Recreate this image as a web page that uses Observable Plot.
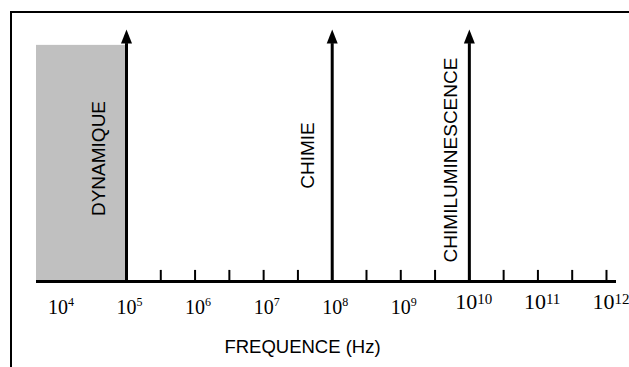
<!DOCTYPE html>
<html>
<head>
<meta charset="utf-8">
<script src="https://cdn.jsdelivr.net/npm/d3@7"></script>
<script src="https://cdn.jsdelivr.net/npm/@observablehq/plot@0.6"></script>
<style>
  html, body { margin: 0; padding: 0; background: #fff; }
  #wrap { position: relative; width: 629px; height: 367px; overflow: hidden; }
  #border { position: absolute; left: 10px; top: 11px; width: 640px; height: 400px;
            border-top: 2px solid #000; border-left: 2px solid #000; pointer-events: none; }
</style>
</head>
<body>
<div id="wrap"><div id="border"></div></div>
<script>
// ---- data ----
const arrowLabels = ["DYNAMIQUE", "CHIMIE", "CHIMILUMINESCENCE"];
const arrowFreqs = [1e5, 1e8, 1e10];
const decadeExponents = [4, 5, 6, 7, 8, 9, 10, 11, 12];
const minorTickExponents = [5.5, 6, 6.5, 7, 7.5, 8, 8.5, 9, 9.5, 10, 10.5, 11, 11.5, 12];
const axisStartExponent = 3.6875;
const axisEndExponent = 12.146;
const shadedLabel = "DYNAMIQUE";
const shadedStartExponent = 3.6875;
const shadedEndExponent = 5;
const shadedHeight = 0.937;
const arrowShaftTop = 0.944;
const arrowTip = 1;
const axisTitle = "FREQUENCE (Hz)";

// ---- tables built from the arrays ----
const arrows = arrowFreqs.map((f, i) => ({freq: f, label: arrowLabels[i]}));
const shaded = [{x1: 10 ** shadedStartExponent, x2: 10 ** shadedEndExponent, h: shadedHeight, label: shadedLabel}];
const minorTicks = minorTickExponents.map(e => ({freq: 10 ** e}));
const decades = decadeExponents.map(e => ({freq: 10 ** e, base: "10", exp: String(e), big: e >= 10}));

const arrowHead = {
  draw(ctx) {
    ctx.moveTo(0, 0);
    ctx.lineTo(5.5, 14);
    ctx.lineTo(-5.5, 14);
    ctx.closePath();
  }
};

const serif = "Liberation Serif, Times New Roman, serif";
const sans = "Liberation Sans, Arial, Helvetica, sans-serif";

const labelOffsets = [{dx: -21, dy: 3}, {dx: -18, dy: 0}, {dx: -12, dy: 4.5}];

const chart = Plot.plot({
  width: 629,
  height: 367,
  marginLeft: 36,
  marginRight: 13,
  marginTop: 29,
  marginBottom: 86,
  style: {fontFamily: sans, background: "transparent", overflow: "visible"},
  x: {type: "log", domain: [10 ** axisStartExponent, 10 ** axisEndExponent], axis: null},
  y: {domain: [0, 1], axis: null},
  marks: [
    Plot.rectY(shaded, {x1: "x1", x2: "x2", y1: 0, y2: "h", fill: "#c0c0c0"}),
    Plot.ruleX(minorTicks, {x: "freq", y1: 0, y2: 0.044, stroke: "#000", strokeWidth: 2}),
    Plot.ruleY([0], {stroke: "#000", strokeWidth: 3}),
    Plot.ruleX(arrows, {x: "freq", y1: 0, y2: arrowShaftTop, stroke: "#000", strokeWidth: 3}),
    Plot.dot(arrows, {x: "freq", y: arrowTip, symbol: arrowHead, fill: "#000", stroke: "none", r: 5}),
    ...arrows.map((d, i) => Plot.text([d], {
      x: "freq", y: 0.5, text: "label", rotate: -90, textAnchor: "middle", lineAnchor: "bottom",
      dx: labelOffsets[i].dx, dy: labelOffsets[i].dy, fontSize: 19, fill: "#000", fontFamily: sans
    })),
    // decade labels (10 with superscript exponent)
    Plot.text(decades.filter(d => !d.big), {x: "freq", y: 0, text: "base", textAnchor: "middle", lineAnchor: "bottom",
      dy: 32, fontSize: 20, fontFamily: serif, fill: "#000"}),
    Plot.text(decades.filter(d => !d.big), {x: "freq", y: 0, text: "exp", textAnchor: "start", lineAnchor: "bottom",
      dx: 10, dy: 24, fontSize: 12, fontFamily: serif, fill: "#000"}),
    Plot.text(decades.filter(d => d.big), {x: "freq", y: 0, text: "base", textAnchor: "middle", lineAnchor: "bottom",
      dx: -3, dy: 27, fontSize: 22, fontFamily: serif, fill: "#000"}),
    Plot.text(decades.filter(d => d.big), {x: "freq", y: 0, text: "exp", textAnchor: "start", lineAnchor: "bottom",
      dx: 8, dy: 22, fontSize: 15, fontFamily: serif, fill: "#000"}),
    Plot.text([axisTitle], {frameAnchor: "bottom", lineAnchor: "bottom", dx: -24, dy: 71,
      fontSize: 18.5, fontFamily: sans, fill: "#000"})
  ]
});
chart.style.position = "absolute";
chart.style.left = "0px";
chart.style.top = "0px";
document.getElementById("wrap").appendChild(chart);
</script>
</body>
</html>
